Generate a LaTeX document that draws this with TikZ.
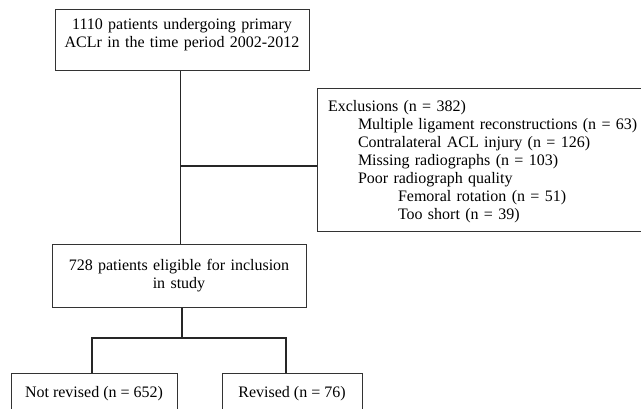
\documentclass[tikz,border=0pt]{standalone}
\usepackage{fontspec}
\setmainfont{Liberation Serif}
\usetikzlibrary{positioning}
\tikzstyle{box} = [
  rectangle,
  draw=black!80,
  line width=1pt,
  inner sep=0pt,
  font=\fontsize{16}{18}\selectfont
]
\tikzstyle{line} = [draw=black!85, line width=1.1pt]

\begin{document}
\begin{tikzpicture}[x=1pt, y=-1pt]
    \useasboundingbox (0,0) rectangle (641,408);
    \node (patients) [box, text width=254pt, align=center, text height=20pt, text depth=41.7pt] at (182,40) {1110 patients undergoing primary\\ACLr in the time period 2002-2012};
    \node (exclusions) [box, inner xsep=11pt, text width=321pt, align=left, text height=23pt, text depth=120pt] at (488.5,159.5) {Exclusions (n = 382)\\
      \hspace*{30pt}Multiple ligament reconstructions (n = 63)\\
      \hspace*{30pt}Contralateral ACL injury (n = 126)\\
      \hspace*{30pt}Missing radiographs (n = 103)\\
      \hspace*{30pt}Poor radiograph quality\\
      \hspace*{70pt}Femoral rotation (n = 51)\\
      \hspace*{70pt}Too short (n = 39)};
    \node (eligible) [box, text width=254pt, align=center, text height=26pt, text depth=37pt] at (179,275.5) {728 patients eligible for inclusion\\in study};
    \node (not-revised) [box, minimum width=166pt, text height=24pt, text depth=23pt] at (94,396.5) {Not revised (n = 652)};
    \node (revised) [box, minimum width=140pt, text height=24pt, text depth=23pt] at (292,396.5) {Revised (n = 76)};

    \coordinate (trunk) at (180.5,166);
    \coordinate (split) at (182,338);
    \draw [line] (trunk |- patients.south) -- (trunk |- eligible.north);
    \draw [line] (trunk) -- (trunk -| exclusions.west);
    \draw [line] (split |- eligible.south) -- (split);
    \draw [line] ([xshift=-2pt]not-revised.north) |- (split) -| ([xshift=-6pt]revised.north);
\end{tikzpicture}
\end{document}
